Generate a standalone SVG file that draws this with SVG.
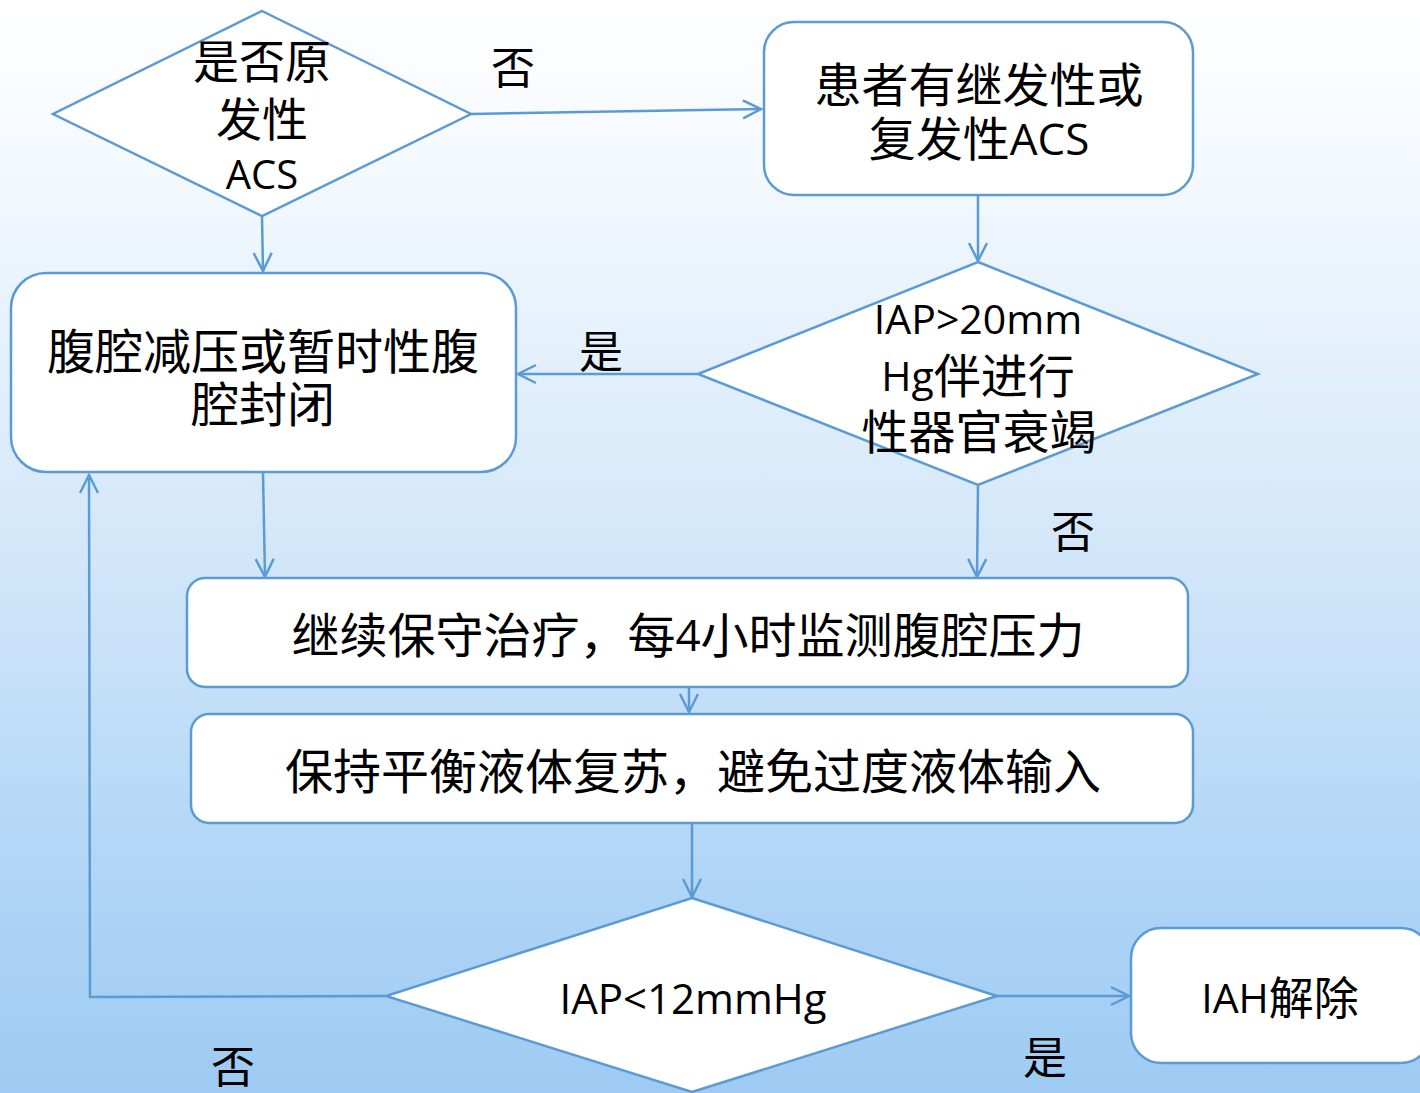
<svg xmlns="http://www.w3.org/2000/svg" width="1420" height="1093" viewBox="0 0 1420 1093">
<defs>
<linearGradient id="bg" x1="0" y1="0" x2="0" y2="1">
<stop offset="0" stop-color="#ffffff"/>
<stop offset="0.15" stop-color="#f4f9fe"/>
<stop offset="0.5" stop-color="#d3e7f9"/>
<stop offset="0.8" stop-color="#b0d5f6"/>
<stop offset="1" stop-color="#9ecbf3"/>
</linearGradient>
<marker id="arr" markerUnits="userSpaceOnUse" markerWidth="30" markerHeight="30" refX="20" refY="10" orient="auto" viewBox="0 0 30 20">
<path d="M2,1 L20,10 L2,19" fill="none" stroke="#5b9bd5" stroke-width="2.5"/>
</marker>
</defs>
<style>
.shape{fill:#ffffff;stroke:#5b9bd5;stroke-width:2.5}
.conn{fill:none;stroke:#5b9bd5;stroke-width:2.5}
.t{font-family:"Open Sans","Noto Sans CJK SC",sans-serif;fill:#000;text-anchor:middle;dominant-baseline:central}
.lbl{font-size:44px}
</style>
<rect width="1420" height="1093" fill="url(#bg)"/>
<g id="connectors">
<line class="conn" x1="471" y1="114" x2="761" y2="109" marker-end="url(#arr)"/>
<line class="conn" x1="978" y1="195" x2="978" y2="261" marker-end="url(#arr)"/>
<line class="conn" x1="698" y1="374" x2="518" y2="374" marker-end="url(#arr)"/>
<line class="conn" x1="262" y1="216" x2="263" y2="271" marker-end="url(#arr)"/>
<line class="conn" x1="263" y1="473" x2="265" y2="577" marker-end="url(#arr)"/>
<line class="conn" x1="978" y1="485" x2="977" y2="577" marker-end="url(#arr)"/>
<line class="conn" x1="689" y1="687" x2="689" y2="712" marker-end="url(#arr)"/>
<line class="conn" x1="692" y1="823" x2="692" y2="897" marker-end="url(#arr)"/>
<line class="conn" x1="997" y1="996" x2="1129" y2="996" marker-end="url(#arr)"/>
<polyline class="conn" points="386,996 90,997 89,475" marker-end="url(#arr)"/>
<text class="t lbl" x="513" y="67">否</text>
<text class="t lbl" x="601" y="351">是</text>
<text class="t lbl" x="1073" y="531">否</text>
<text class="t lbl" x="1045" y="1057">是</text>
<text class="t lbl" x="233" y="1066">否</text>
</g>
<g id="n1">
<polygon class="shape" points="262,11 471,114 262,216 53,114"/>
<text class="t" x="262" y="60" font-size="46">是否原</text>
<text class="t" x="262" y="118" font-size="46">发性</text>
<text class="t" x="262" y="173" font-size="40">ACS</text>
</g>
<g id="n2">
<rect class="shape" x="764" y="22" width="429" height="173" rx="30"/>
<text class="t" x="979" y="84" font-size="47">患者有继发性或</text>
<text class="t" x="979" y="138" font-size="44"><tspan font-size="47">复发性</tspan>ACS</text>
</g>
<g id="n3">
<polygon class="shape" points="978,262 1258,374 978,485 698,374"/>
<text class="t" x="978" y="318" font-size="41">IAP&gt;20mm</text>
<text class="t" x="978" y="375" font-size="41">Hg<tspan font-size="47">伴进行</tspan></text>
<text class="t" x="979" y="431" font-size="47">性器官衰竭</text>
</g>
<g id="n4">
<rect class="shape" x="11" y="273" width="505" height="199" rx="35"/>
<text class="t" x="263" y="350" font-size="48">腹腔减压或暂时性腹</text>
<text class="t" x="263" y="403" font-size="48">腔封闭</text>
</g>
<g id="n5">
<rect class="shape" x="187" y="578" width="1001" height="109" rx="18"/>
<text class="t" x="688" y="634" font-size="48">继续保守治疗，每<tspan font-size="44">4</tspan>小时监测腹腔压力</text>
</g>
<g id="n6">
<rect class="shape" x="191" y="714" width="1002" height="109" rx="18"/>
<text class="t" x="693" y="770" font-size="48">保持平衡液体复苏，避免过度液体输入</text>
</g>
<g id="n7">
<polygon class="shape" points="692,898 997,996 692,1092 386,996"/>
<text class="t" x="693" y="997" font-size="42">IAP&lt;12mmHg</text>
</g>
<g id="n8">
<rect class="shape" x="1131" y="928" width="300" height="135" rx="30"/>
<text class="t" x="1280" y="997" font-size="41">IAH<tspan font-size="45">解除</tspan></text>
</g>
</svg>
